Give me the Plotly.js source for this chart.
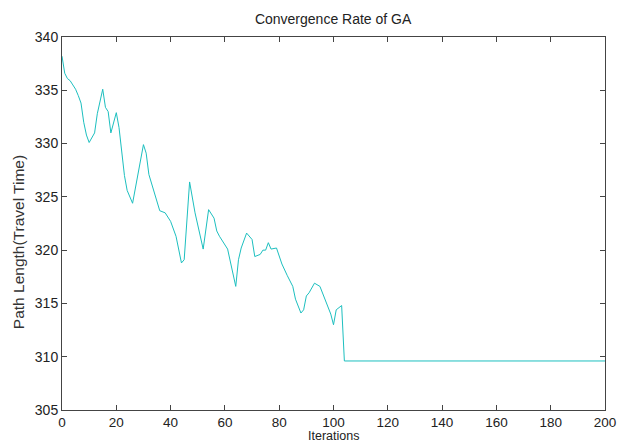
<!DOCTYPE html>
<html>
<head>
<meta charset="utf-8">
<script src="https://cdn.plot.ly/plotly-3.0.1.min.js"></script>
<style>html,body{margin:0;padding:0;background:#fff;}#chart{width:618px;height:444px;}</style>
</head>
<body>
<div id="chart"></div>
<script>
const iterations = [0,1,2,3,4,5,6,7,8,9,10,11,12,13,15,16,17,18,20,21,23,24,26,30,31,32,34,36,38,40,42,44,45,47,49,52,54,56,57,58,61,62,64,65,66,68,70,71,73,74,75,76,77,79,81,83,85,86,88,89,90,91,93,95,97,99,100,101,103,104,200];
const pathLength = [338.2,336.6,336.1,335.9,335.5,335.1,334.5,333.8,332.0,330.8,330.1,330.6,331.0,332.8,335.1,333.4,333.0,331.0,332.9,331.5,327.0,325.6,324.4,329.9,329.1,327.1,325.4,323.7,323.5,322.7,321.3,318.8,319.1,326.4,323.5,320.1,323.8,323.0,321.8,321.3,320.1,318.9,316.6,319.1,320.2,321.6,321.0,319.4,319.6,320.0,320.0,320.7,320.1,320.2,318.7,317.6,316.6,315.4,314.1,314.4,315.7,316.0,316.9,316.6,315.2,314.0,313.0,314.4,314.8,309.6,309.6];
const xTicks = [0,20,40,60,80,100,120,140,160,180,200];
const yTicks = [305,310,315,320,325,330,335,340];
const chartTitle = 'Convergence Rate of GA';
const xTitle = 'Iterations';
const yTitle = 'Path Length(Travel Time)';

const fontFam = '"Liberation Sans", Arial, sans-serif';
Plotly.newPlot('chart', [{
  x: iterations, y: pathLength, type: 'scatter', mode: 'lines',
  line: {color: '#1cbfbf', width: 1}
}], {
  width: 618, height: 444,
  margin: {l: 62, r: 13, t: 37, b: 34},
  paper_bgcolor: '#fff', plot_bgcolor: '#fff',
  showlegend: false,
  title: {text: chartTitle, font: {family: fontFam, size: 14, color: '#222'}, x: 0.539, xanchor: 'center', y: 0.957, yanchor: 'middle'},
  xaxis: {
    range: [0, 200], tickvals: xTicks, ticktext: xTicks.map(String),
    ticks: 'inside', ticklen: 5, tickcolor: '#444', showline: true, linecolor: '#444', linewidth: 1,
    mirror: 'ticks', showgrid: false, zeroline: false,
    tickfont: {family: fontFam, size: 13.5, color: '#222'}
  },
  yaxis: {
    range: [305, 340], tickvals: yTicks, ticktext: yTicks.map(String),
    ticks: 'inside', ticklen: 5, tickcolor: '#444', showline: true, linecolor: '#444', linewidth: 1,
    mirror: 'ticks', showgrid: false, zeroline: false,
    tickfont: {family: fontFam, size: 14, color: '#222'}
  },
  annotations: [
    {text: xTitle, xref: 'paper', yref: 'paper', x: 0.5, y: -0.0912, xanchor: 'center', yanchor: 'bottom',
     borderpad: 0, showarrow: false, font: {family: fontFam, size: 12.5, color: '#222'}},
    {text: yTitle, xref: 'paper', yref: 'paper', x: -0.081, y: 0.450, xanchor: 'center', yanchor: 'middle',
     textangle: -90, showarrow: false, font: {family: fontFam, size: 15.5, color: '#333'}}
  ]
}, {displayModeBar: false, staticPlot: true});
</script>
</body>
</html>
